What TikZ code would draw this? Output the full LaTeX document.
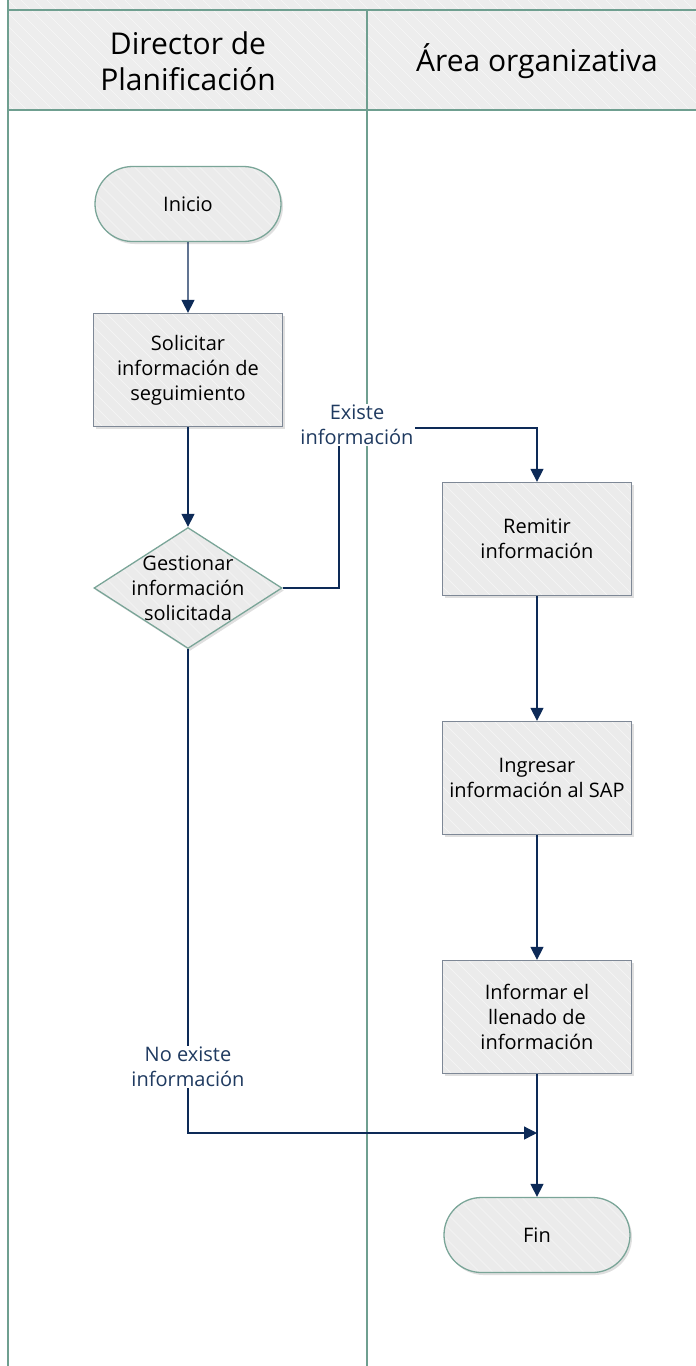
\documentclass[tikz,border=0pt]{standalone}
\usepackage{fontspec}
\setmainfont{Open Sans}
\usetikzlibrary{arrows.meta,shapes.geometric,shapes.misc,shadows}

\definecolor{cellfill}{HTML}{EBEBEB}
\definecolor{headfill}{HTML}{EDEDED}
\definecolor{boxedge}{HTML}{7E8896}
\definecolor{termedge}{HTML}{7AA598}
\definecolor{laneline}{HTML}{6F9F90}
\definecolor{flowcol}{HTML}{0D2A57}
\definecolor{labelcol}{HTML}{1F3A60}

\tikzset{
  hatch/.style={path picture={
      \foreach \k in {-70,...,70}
        \draw[white, line width=0.6pt, opacity=0.6]
          ([xshift=\k*13pt]path picture bounding box.north west) -- ++(420pt,-420pt);
  }},
  basefont/.style={font=\fontsize{20}{25}\selectfont, align=center, text=black},
  shape shadow/.style={drop shadow={opacity=0.25, shadow xshift=2pt, shadow yshift=-2.5pt}},
  taskbox/.style={rectangle, basefont, fill=cellfill, draw=boxedge, line width=1.3pt,
      minimum width=189pt, minimum height=113pt, inner sep=2pt, shape shadow, hatch},
  termbox/.style={rounded rectangle, basefont, fill=cellfill, draw=termedge, line width=1.3pt,
      minimum width=190pt, minimum height=75pt, inner sep=2pt, shape shadow, hatch},
  decisionbox/.style={diamond, fill=cellfill, draw=termedge, line width=1.3pt,
      minimum width=188pt, minimum height=121pt, inner sep=0pt, shape shadow, hatch},
  lane/.style={draw=laneline, line width=2.8pt},
  flow/.style={draw=flowcol, line width=1.3pt, -{Triangle[length=13pt,width=13pt]}},
  flowlabel/.style={font=\fontsize{20}{25}\selectfont, align=center, text=labelcol,
      fill=white, inner sep=1pt},
  headtext/.style={font=\fontsize{30}{36}\selectfont, align=center, text=black}
}

\begin{document}
\begin{tikzpicture}[x=1pt, y=-1pt]
  \useasboundingbox (0,0) rectangle (696,1366);

  % pool header band
  \fill[headfill, hatch] (8,0) rectangle (696,110);
  \draw[lane] (8,10) -- (696,10);
  \draw[lane] (8,110) -- (696,110);
  \draw[lane] (8,0) -- (8,1366);
  \draw[lane] (367,10) -- (367,1366);

  \node[headtext] (laneA) at (188,61) {Director de\\Planificación};
  \node[headtext] (laneB) at (537,61) {Área organizativa};

  % steps
  \node[termbox] (inicio) at (188,204) {Inicio};
  \node[taskbox] (solicitar) at (188,370) {Solicitar\\información de\\seguimiento};
  \node[decisionbox] (gestionar) at (188,588) {};
  \node[basefont] (gestionarTxt) at (188,588) {Gestionar\\información\\solicitada};
  \node[taskbox] (remitir) at (537,539) {Remitir\\información};
  \node[taskbox] (ingresar) at (537,778) {Ingresar\\información al SAP};
  \node[taskbox] (informar) at (537,1017) {Informar el\\llenado de\\información};
  \node[termbox] (fin) at (537,1235) {Fin};

  % connectors
  \coordinate (yesBend) at (339,428);
  \coordinate (noBend) at (188,1133);
  \coordinate (noEnd) at (537,1133);

  \draw[flow] (inicio) -- (solicitar);
  \draw[flow] (solicitar) -- (gestionar);
  \draw[flow] (gestionar.east) -| (yesBend) -| (remitir.north);
  \draw[flow] (remitir) -- (ingresar);
  \draw[flow] (ingresar) -- (informar);
  \draw[flow] (informar) -- (fin);
  \draw[flow] (gestionar.south) -- (noBend) -- (noEnd);

  \node[flowlabel] (yesLbl) at (357,425) {Existe\\información};
  \node[flowlabel] (noLbl) at (188,1067) {No existe\\información};
\end{tikzpicture}
\end{document}
